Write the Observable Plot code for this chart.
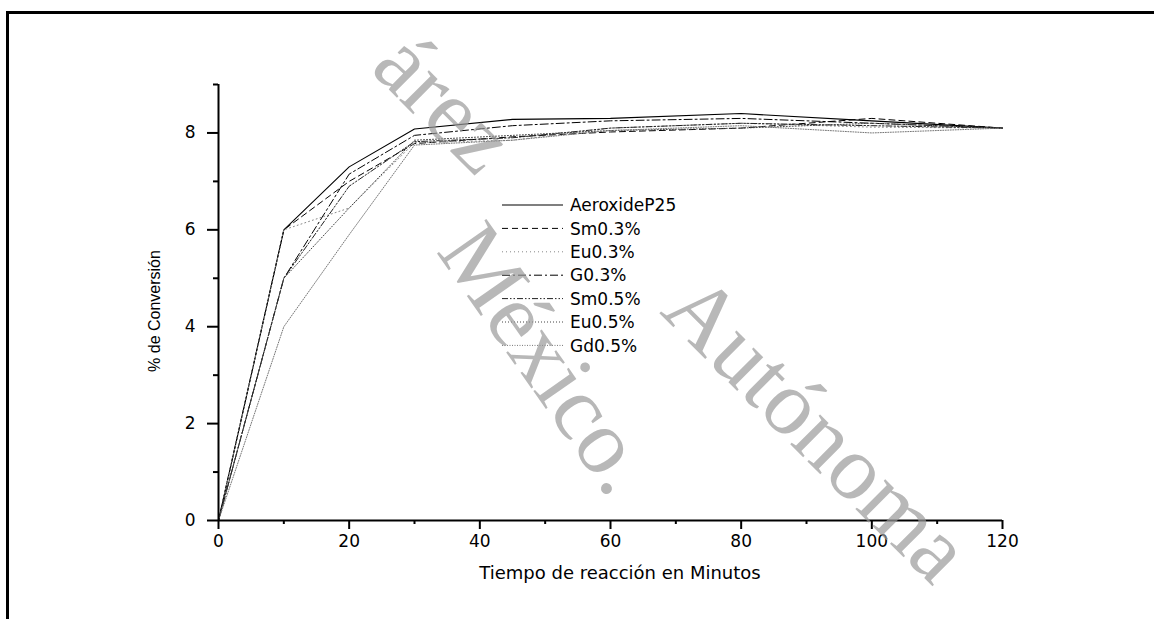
<!DOCTYPE html>
<html><head><meta charset="utf-8">
<script src="https://cdn.jsdelivr.net/npm/d3@7"></script>
<script src="https://cdn.jsdelivr.net/npm/@observablehq/plot@0.6"></script>
<style>
body{margin:0;background:#fff;}
#wrap{position:relative;width:1154px;height:619px;overflow:hidden;background:#fff;}
#frame{position:absolute;left:6px;top:11px;width:2000px;height:2000px;border-left:3px solid #000;border-top:3px solid #000;}
#chart{position:absolute;left:0;top:0;}
.ov{position:absolute;left:0;top:0;pointer-events:none;}
#xtitle{position:absolute;left:0;width:1240px;top:562px;text-align:center;font-family:"DejaVu Sans";font-size:18px;color:#000;}
#ytitle{position:absolute;left:155px;top:311px;transform:translate(-50%,-50%) rotate(-90deg);white-space:nowrap;font-family:"Liberation Sans";font-size:16px;color:#000;}
</style></head><body>
<div id="wrap"><div id="frame"></div><div id="chart"></div>
<div id="xtitle">Tiempo de reacción en Minutos</div>
<div id="ytitle">% de Conversión</div>
<svg id="legend" class="ov" width="1154" height="619"></svg>
<svg id="wm" class="ov" width="1154" height="619"></svg>
</div>
<script>
// --- data ---
const times = [0, 10, 20, 30, 45, 60, 80, 100, 120];
const seriesNames = ["AeroxideP25", "Sm0.3%", "Eu0.3%", "G0.3%", "Sm0.5%", "Eu0.5%", "Gd0.5%"];
const aeroxideP25 = [0, 6.0, 7.3, 8.08, 8.28, 8.3, 8.4, 8.25, 8.1];
const sm03 = [0, 6.0, 7.0, 7.78, 7.92, 8.02, 8.1, 8.3, 8.1];
const eu03 = [0, 6.0, 6.45, 7.8, 7.85, 8.1, 8.2, 8.12, 8.1];
const g03 = [0, 5.0, 7.15, 7.95, 8.15, 8.25, 8.3, 8.2, 8.1];
const sm05 = [0, 5.0, 6.9, 7.82, 7.9, 8.1, 8.2, 8.15, 8.1];
const eu05 = [0, 5.0, 6.45, 7.85, 7.95, 8.05, 8.1, 8.2, 8.1];
const gd05 = [0, 4.0, 5.9, 7.75, 7.85, 8.05, 8.15, 8.0, 8.1];
const seriesValues = [aeroxideP25, sm03, eu03, g03, sm05, eu05, gd05];
const xMajorTicks = [0, 20, 40, 60, 80, 100, 120];
const xMinorTicks = [10, 30, 50, 70, 90, 110];
const yMajorTicks = [0, 2, 4, 6, 8];
const yMinorTicks = [1, 3, 5, 7, 9];
const watermarkTexts = ["árez", "Autónoma", "México."];

// --- styles per series ---
const seriesStyle = [
  {stroke: "#000", dash: null, w: 1.1},
  {stroke: "#000", dash: "6,4", w: 1},
  {stroke: "#888", dash: "1,3", w: 1},
  {stroke: "#000", dash: "8,3,2,3", w: 1},
  {stroke: "#222", dash: "6,2,1.5,2,1.5,2", w: 1},
  {stroke: "#444", dash: "1,2", w: 1},
  {stroke: "#777", dash: "1,1.5", w: 1}
];

const rows = [];
seriesNames.forEach((name, i) => times.forEach((t, j) => rows.push({series: name, t, v: seriesValues[i][j]})));

const lineMarks = seriesNames.map((name, i) => Plot.line(rows.filter(d => d.series === name), {
  x: "t", y: "v", stroke: seriesStyle[i].stroke, strokeWidth: seriesStyle[i].w,
  strokeDasharray: seriesStyle[i].dash ?? undefined
}));

const chart = Plot.plot({
  width: 1154, height: 619,
  marginLeft: 218, marginRight: 152, marginTop: 84, marginBottom: 99,
  style: {fontFamily: "DejaVu Sans", fontSize: "17px", background: "transparent", color: "#000"},
  x: {domain: [0, 120]},
  y: {domain: [0, 9]},
  marks: [
    ...lineMarks,
    Plot.ruleY([0], {strokeWidth: 2}),
    Plot.ruleX([0], {strokeWidth: 2}),
    Plot.axisX(xMajorTicks, {tickSize: 9, tickPadding: 5, strokeWidth: 2, label: null}),
    Plot.axisX(xMinorTicks, {tickSize: 4, tickFormat: () => "", strokeWidth: 2, label: null}),
    Plot.axisY(yMajorTicks, {tickSize: 11, tickPadding: 12, strokeWidth: 2, label: null}),
    Plot.axisY(yMinorTicks, {tickSize: 5, tickFormat: () => "", strokeWidth: 2, label: null})
  ]
});
document.getElementById("chart").appendChild(chart);

// --- legend ---
const leg = d3.select("#legend");
const lx0 = 502, lx1 = 563, ly0 = 205, ldy = 23.4;
seriesNames.forEach((name, i) => {
  const y = ly0 + i * ldy;
  leg.append("line").attr("x1", lx0).attr("x2", lx1).attr("y1", y).attr("y2", y)
    .attr("stroke", seriesStyle[i].stroke).attr("stroke-width", seriesStyle[i].w)
    .attr("stroke-dasharray", seriesStyle[i].dash);
  leg.append("text").attr("x", lx1 + 7).attr("y", y).attr("dy", "0.36em")
    .attr("font-family", "DejaVu Sans").attr("font-size", 17).attr("fill", "#000").text(name);
});

// --- watermark ---
const wm = d3.select("#wm");
const wmPos = [[445, 102, 45], [818, 428, 45], [548, 358, 55]];
watermarkTexts.forEach((txt, i) => {
  const [cx, cy, a] = wmPos[i];
  wm.append("text").attr("transform", `translate(${cx},${cy}) rotate(${a})`)
    .attr("text-anchor", "middle").attr("dominant-baseline", "central")
    .attr("font-family", "Liberation Serif").attr("font-size", 92)
    .attr("fill", "#9a9a9a").attr("fill-opacity", 0.7).text(txt);
});
</script>
</body></html>
